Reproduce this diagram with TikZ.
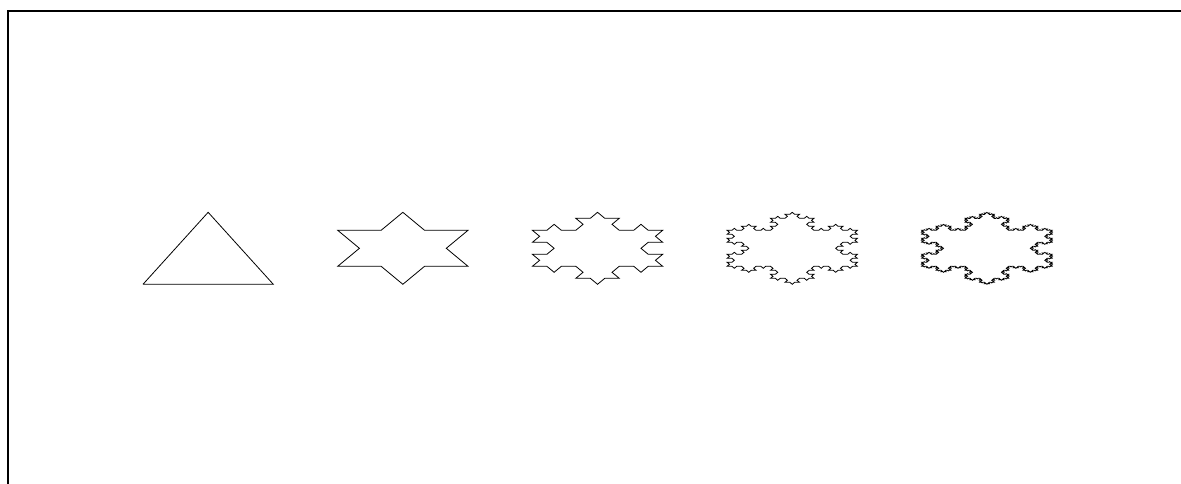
\documentclass[tikz,border=0pt]{standalone}
\begin{document}
\begin{tikzpicture}[x=1pt,y=1pt,
  declare function={kt(\d)=(\d==1)*60-(\d==2)*60;},
  kochline/.style={draw=black,line width=0.8pt,line join=miter},
  framel/.style={draw=black,line width=2pt}]
\useasboundingbox (0,0) rectangle (1181,483);
\begin{scope}
\clip (0,0) rectangle (1181,483);
\draw[framel] (8,-10) -- (8,472) -- (1200,472);
\end{scope}
\foreach \n/\xo in {0/143,1/337.7,2/532.4,3/727.1,4/921.8} {
  \pgfmathsetmacro\ys{\n==0 ? 83.14 : 62.35}
  \pgfmathsetmacro\yo{\n==0 ? 198.7 : 216.7}
  \pgfmathtruncatemacro\M{4^\n-1}
  \pgfmathsetmacro\len{1/(3^\n)}
  \begin{scope}[shift={(\xo,\yo)},x=130.3pt,y=\ys pt]
    \path[kochline] (0,0)
      \foreach \s in {60,-60,180} {
        \foreach \i in {0,...,\M} {
          -- ++({\s+kt(mod(\i,4))+kt(mod(floor(\i/4),4))+kt(mod(floor(\i/16),4))+kt(mod(floor(\i/64),4))}:\len)
        }
      } -- cycle;
  \end{scope}
}
\end{tikzpicture}
\end{document}
